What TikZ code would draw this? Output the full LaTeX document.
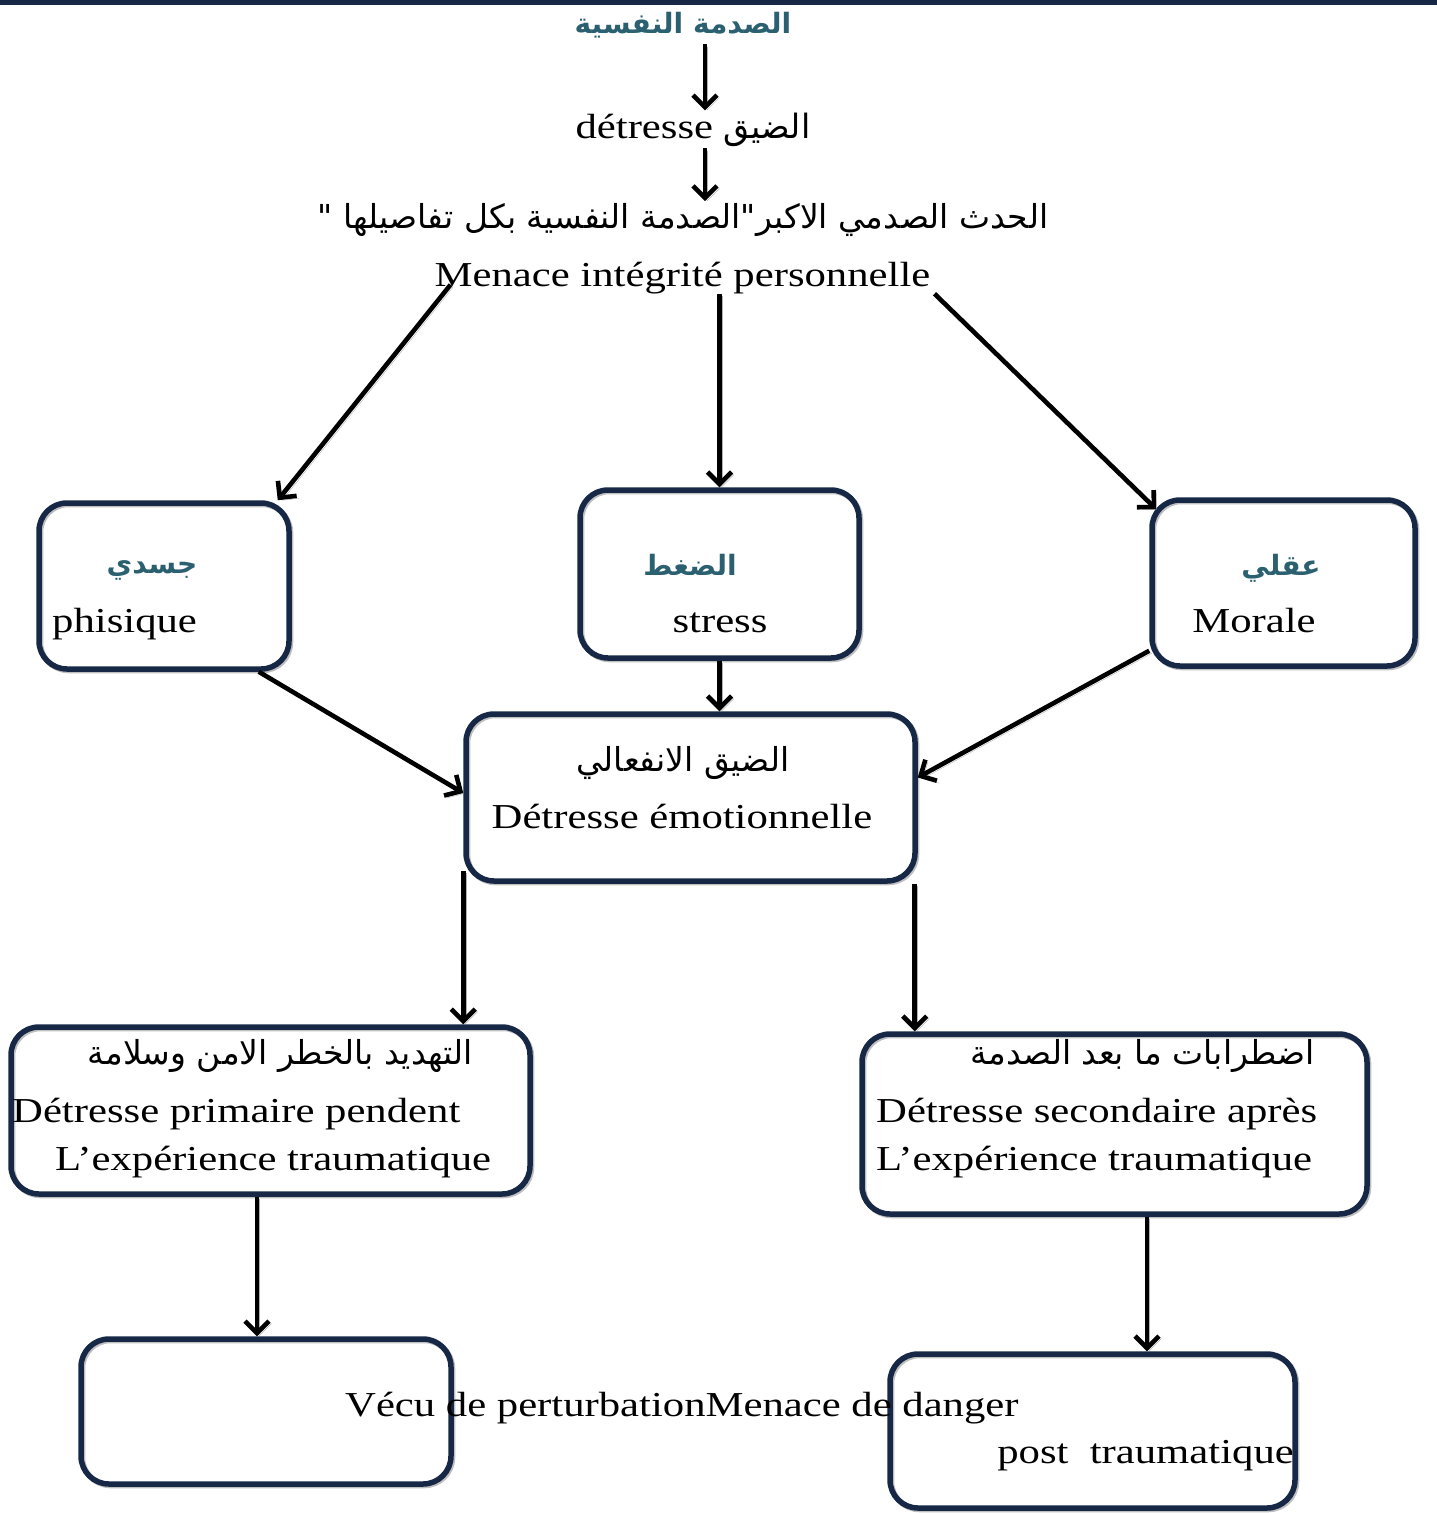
\documentclass[tikz,border=0pt]{standalone}
\usepackage{fontspec}
\setmainfont{Liberation Serif}[FakeStretch=1.22]
\newfontfamily\arabicfont[Script=Arabic]{DejaVu Sans}
\TeXXeTstate=1
\usetikzlibrary{arrows.meta}
\definecolor{navy}{RGB}{22,40,70}
\definecolor{tealt}{RGB}{43,96,112}
\newcommand{\artxt}[1]{{\arabicfont\beginR #1\endR}}
\newcommand{\lat}{\fontsize{35}{40}\selectfont}
\newcommand{\arsz}{\fontsize{33}{38}\selectfont}
\newcommand{\arbsz}{\fontsize{28}{32}\selectfont}
\tikzset{
  box/.style={draw=navy, line width=5.5pt, rounded corners=28pt, inner sep=0pt,
    preaction={draw=black!25, transform canvas={shift={(1.5pt,-1.5pt)}}}},
  arr/.style={line width=4.6pt, -{Straight Barb[length=12pt,width=24pt]},
    preaction={draw=black!30, transform canvas={shift={(2.5pt,-2.5pt)}}}},
  txt/.style={inner sep=0pt, font=\lat},
  artx/.style={inner sep=0pt, font=\arsz},
  arteal/.style={inner sep=0pt, font=\arbsz\bfseries, text=tealt}
}
\begin{document}
\begin{tikzpicture}[x=1pt,y=-1pt]
\useasboundingbox (0,0) rectangle (1437,1513);
\fill[navy] (0,0) rectangle (1437,5);
% boxes
\node[box, minimum width=250pt, minimum height=166pt] (phis) at (164,586) {};
\node[box, minimum width=279pt, minimum height=168pt] (stress) at (719.5,574) {};
\node[box, minimum width=263pt, minimum height=166pt] (moral) at (1283.5,583) {};
\node[box, minimum width=449pt, minimum height=167pt] (emo) at (690.5,797.5) {};
\node[box, minimum width=519pt, minimum height=167pt] (prim) at (270.5,1110.5) {};
\node[box, minimum width=505pt, minimum height=180pt] (sec) at (1114.5,1124) {};
\node[box, minimum width=370pt, minimum height=145pt] (bl) at (266,1411.5) {};
\node[box, minimum width=405pt, minimum height=154pt] (br) at (1092.5,1431) {};
% top texts
\node[arteal] (title) at (683,25) {\artxt{الصدمة النفسية}};
\node[txt, anchor=base] (det) at (693,138) {détresse \artxt{\fontsize{33.5}{38}\selectfont الضيق}};
\node[artx] (evt) at (683,220) {\artxt{الحدث الصدمي الاكبر"الصدمة النفسية بكل تفاصيلها "}};
\node[txt, anchor=base] (mn) at (682.5,286) {Menace intégrité personnelle};
% box texts
\node[arteal] (phisar) at (152,570) {\artxt{جسدي}};
\node[txt, anchor=base west] (phist) at (52,632) {phisique};
\node[arteal] (stressar) at (690,565) {\artxt{الضغط}};
\node[txt, anchor=base] (stresst) at (720,632) {stress};
\node[arteal] (moralar) at (1281,568) {\artxt{عقلي}};
\node[txt, anchor=base] (moralt) at (1254,632) {Morale};
\node[artx] (emoar) at (683,763) {\artxt{الضيق الانفعالي}};
\node[txt, anchor=base] (emot) at (682,828) {Détresse émotionnelle};
\node[artx, anchor=east] (primar) at (473,1056) {\artxt{التهديد بالخطر الامن وسلامة}};
\node[txt, anchor=base west] (primt1) at (12,1122) {Détresse primaire pendent};
\node[txt, anchor=base west] (primt2) at (55,1170) {L’expérience traumatique};
\node[artx, anchor=east] (secar) at (1315,1056) {\artxt{اضطرابات ما بعد الصدمة}};
\node[txt, anchor=base west] (sect1) at (876,1122) {Détresse secondaire après};
\node[txt, anchor=base west] (sect2) at (876,1170) {L’expérience traumatique};
\node[txt, anchor=base west] (vecu) at (345,1416) {Vécu de perturbationMenace de danger};
\node[txt, anchor=base east] (post) at (1294,1463) {post\ \ traumatique};
% arrows
\draw[arr, shorten <=6pt, shorten >=2pt] ([xshift=22pt]title.south) -- ([xshift=12pt]det.north);
\draw[arr, shorten <=2pt, shorten >=2pt] ([xshift=12pt]det.south) -- ([xshift=22pt]evt.north);
\draw[arr] ([xshift=16pt,yshift=9pt]mn.south west) -- ([xshift=-14pt]phis.north east);
\draw[arr] (mn.south -| stress.north) -- (stress.north);
\draw[arr] ([xshift=4pt]mn.south east) -- ([xshift=7pt,yshift=-12pt]moral.north west);
\draw[arr] ([xshift=-33pt]phis.south east) -- ([yshift=4.5pt]emo.west);
\draw[arr] (stress.south) -- (stress.south |- emo.north);
\draw[arr] ([yshift=18pt]moral.south west) -- ([yshift=20pt]emo.east);
\draw[arr] ([yshift=13pt]emo.south west) -- (emo.south west |- prim.north);
\draw[arr] ([xshift=-3pt]emo.south east) -- ([xshift=-3pt]emo.south east |- sec.north);
\draw[arr] ([xshift=-9pt]bl.north |- prim.south) -- ([xshift=-9pt]bl.north);
\draw[arr] ([xshift=54.5pt]br.north |- sec.south) -- ([xshift=54.5pt]br.north);
\end{tikzpicture}
\end{document}
